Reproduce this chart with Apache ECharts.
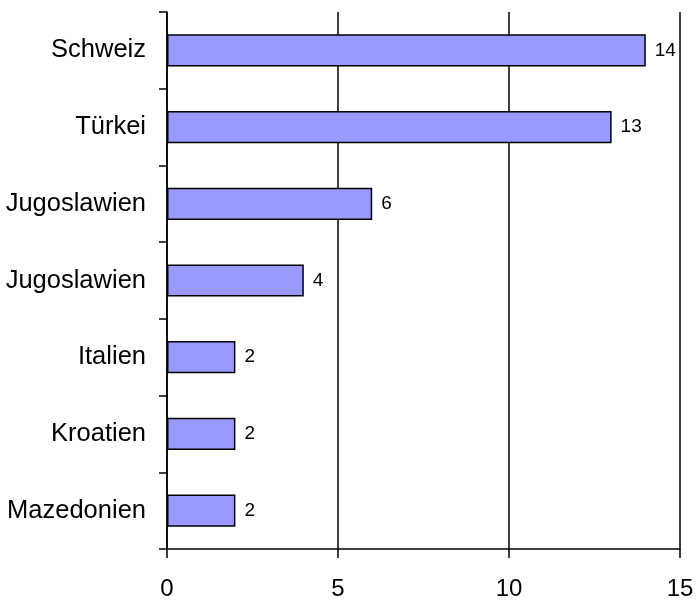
<!DOCTYPE html>
<html>
<head>
<meta charset="utf-8">
<script src="https://cdn.jsdelivr.net/npm/echarts@6/dist/echarts.min.js"></script>
<style>
html,body{margin:0;padding:0;background:#fff;}
#c{width:699px;height:601px;}
</style>
</head>
<body>
<div id="c"></div>
<script>
const categories = ['Schweiz', 'Türkei', 'Jugoslawien', 'Jugoslawien', 'Italien', 'Kroatien', 'Mazedonien'];
const values = [14, 13, 6, 4, 2, 2, 2];
const xTicks = [0, 5, 10, 15];

const chart = echarts.init(document.getElementById('c'), null, {renderer: 'canvas'});
const font = '"Liberation Sans", Arial, sans-serif';
chart.setOption({
  animation: false,
  backgroundColor: '#fff',
  grid: {left: 167, right: 19, top: 12, bottom: 52, containLabel: false},
  xAxis: {
    type: 'value',
    min: xTicks[0],
    max: xTicks[xTicks.length - 1],
    interval: 5,
    axisLine: {show: true, lineStyle: {color: '#000', width: 1.5}},
    axisTick: {show: true, length: 9, lineStyle: {color: '#000', width: 1.5}},
    axisLabel: {color: '#000', fontSize: 24, fontFamily: font, margin: 28},
    splitLine: {show: true, lineStyle: {color: '#000', width: 1.5}}
  },
  yAxis: {
    type: 'category',
    inverse: true,
    data: categories,
    axisLine: {show: true, lineStyle: {color: '#000', width: 1.5}},
    axisTick: {show: true, length: 8, alignWithLabel: false, lineStyle: {color: '#000', width: 1.5}},
    axisLabel: {color: '#000', fontSize: 25.5, fontFamily: font, margin: 21, interval: 0},
    splitLine: {show: false}
  },
  series: [{
    type: 'bar',
    data: values,
    barWidth: '42%',
    itemStyle: {color: '#9999FF', borderColor: '#000', borderWidth: 1.5},
    label: {show: true, position: 'right', distance: 9, color: '#000', fontSize: 19, fontFamily: font}
  }]
});
</script>
</body>
</html>
